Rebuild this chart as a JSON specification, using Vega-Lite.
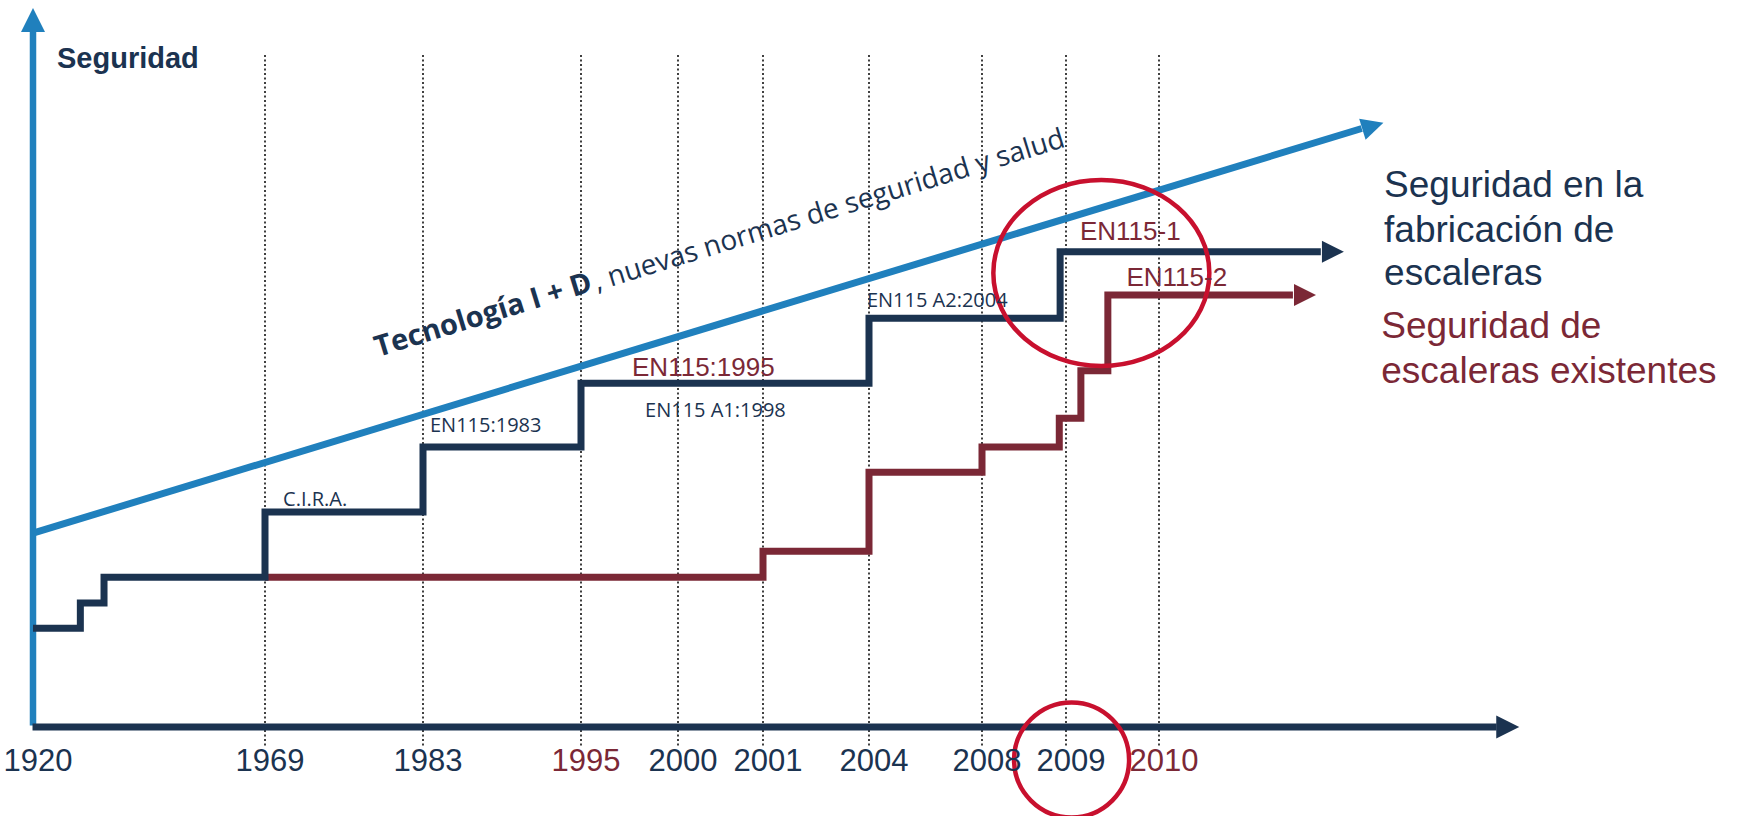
{
  "$schema": "https://vega.github.io/schema/vega-lite/v6.json",
  "width": 1738,
  "height": 816,
  "autosize": {"type": "none"},
  "padding": 0,
  "background": "white",
  "config": {"view": {"stroke": null}},
  "datasets": {
    "anios": [
      {"anio": 1920, "serie": "fabricación"},
      {"anio": 1969, "serie": "fabricación"},
      {"anio": 1983, "serie": "fabricación"},
      {"anio": 1995, "serie": "existentes"},
      {"anio": 2000, "serie": "fabricación"},
      {"anio": 2001, "serie": "fabricación"},
      {"anio": 2004, "serie": "fabricación"},
      {"anio": 2008, "serie": "fabricación"},
      {"anio": 2009, "serie": "fabricación"},
      {"anio": 2010, "serie": "existentes"}
    ],
    "fabricacion": [
      {"anio": 1920, "nivel": 14.1, "serie": "fabricación"},
      {"anio": 1930, "nivel": 17.7, "serie": "fabricación"},
      {"anio": 1935, "nivel": 21.4, "serie": "fabricación"},
      {"anio": 1969, "nivel": 30.7, "serie": "fabricación"},
      {"anio": 1983, "nivel": 40.0, "serie": "fabricación"},
      {"anio": 1995, "nivel": 49.1, "serie": "fabricación"},
      {"anio": 2004, "nivel": 58.4, "serie": "fabricación"},
      {"anio": 2008.93, "nivel": 67.9, "serie": "fabricación"},
      {"anio": 2011.74, "nivel": 67.9, "serie": "fabricación"}
    ],
    "existentes": [
      {"anio": 1969, "nivel": 21.4, "serie": "existentes"},
      {"anio": 2001, "nivel": 25.1, "serie": "existentes"},
      {"anio": 2004, "nivel": 36.4, "serie": "existentes"},
      {"anio": 2008, "nivel": 40.0, "serie": "existentes"},
      {"anio": 2008.92, "nivel": 44.1, "serie": "existentes"},
      {"anio": 2009.16, "nivel": 50.9, "serie": "existentes"},
      {"anio": 2009.45, "nivel": 61.7, "serie": "existentes"},
      {"anio": 2011.44, "nivel": 61.7, "serie": "existentes"}
    ],
    "tecnologia": [
      {"anio": 1920, "nivel": 27.7},
      {"anio": 2012.18, "nivel": 85.5}
    ],
    "normas": [
      {"anio": 1970.6, "nivel": 31.57, "texto": "C.I.R.A."},
      {"anio": 1983.53, "nivel": 42.14, "texto": "EN115:1983"},
      {"anio": 1998.3, "nivel": 44.29, "texto": "EN115 A1:1998"},
      {"anio": 2003.94, "nivel": 60.0, "texto": "EN115 A2:2004"}
    ],
    "normas_en": [
      {"anio": 1997.63, "nivel": 50.14, "texto": "EN115:1995"},
      {"anio": 2009.15, "nivel": 69.57, "texto": "EN115-1"},
      {"anio": 2009.65, "nivel": 63.0, "texto": "EN115-2"}
    ],
    "leyenda": [
      {"anio": 2012.42, "nivel": 75.71, "texto": "Seguridad en la", "serie": "fabricación"},
      {"anio": 2012.42, "nivel": 69.29, "texto": "fabricación de", "serie": "fabricación"},
      {"anio": 2012.42, "nivel": 63.14, "texto": "escaleras", "serie": "fabricación"},
      {"anio": 2012.39, "nivel": 55.57, "texto": "Seguridad de", "serie": "existentes"},
      {"anio": 2012.39, "nivel": 49.14, "texto": "escaleras existentes", "serie": "existentes"}
    ],
    "tendencia": [
      {"anio": 1979.01, "nivel": 52.86, "texto": "Tecnología I + D", "parte": "tecnología"},
      {"anio": 1995.82, "nivel": 62.3, "texto": ", nuevas normas de seguridad y salud", "parte": "normas"}
    ]
  },
  "layer": [
    {
      "data": {"name": "anios"},
      "transform": [{"filter": "datum.anio > 1920"}],
      "mark": {"type": "rule", "color": "#111111", "strokeWidth": 1.6, "strokeDash": [2, 2.5]},
      "encoding": {
        "x": {"field": "anio", "type": "quantitative", "axis": null, "scale": {"type": "linear", "domain": [1920, 1969, 1983, 1995, 2000, 2001, 2004, 2008, 2009, 2010], "range": [33, 265, 423, 581, 678, 763, 869, 982, 1066, 1159], "zero": false, "nice": false}},
        "y": {"datum": 96, "type": "quantitative", "axis": null, "scale": {"type": "linear", "domain": [0, 100], "range": [727, 27], "zero": false, "nice": false}},
        "y2": {"datum": -2.9}
      }
    },
    {
      "data": {"values": [{}]},
      "mark": {"type": "rule", "color": "#2080bd", "strokeWidth": 6.5},
      "encoding": {
        "x": {"datum": 1920, "type": "quantitative", "axis": null, "scale": {"type": "linear", "domain": [1920, 1969, 1983, 1995, 2000, 2001, 2004, 2008, 2009, 2010], "range": [33, 265, 423, 581, 678, 763, 869, 982, 1066, 1159], "zero": false, "nice": false}},
        "y": {"datum": 0.2, "type": "quantitative", "axis": null, "scale": {"type": "linear", "domain": [0, 100], "range": [727, 27], "zero": false, "nice": false}},
        "y2": {"datum": 99.3}
      }
    },
    {
      "data": {"values": [{}]},
      "mark": {"type": "point", "shape": "M0,-1L1,1L-1,1Z", "filled": true, "opacity": 1, "color": "#2080bd", "size": 576, "strokeWidth": 0},
      "encoding": {
        "x": {"datum": 1920, "type": "quantitative", "axis": null, "scale": {"type": "linear", "domain": [1920, 1969, 1983, 1995, 2000, 2001, 2004, 2008, 2009, 2010], "range": [33, 265, 423, 581, 678, 763, 869, 982, 1066, 1159], "zero": false, "nice": false}},
        "y": {"datum": 101.0, "type": "quantitative", "axis": null, "scale": {"type": "linear", "domain": [0, 100], "range": [727, 27], "zero": false, "nice": false}}
      }
    },
    {
      "data": {"values": [{}]},
      "mark": {"type": "rule", "color": "#1b3350", "strokeWidth": 7},
      "encoding": {
        "x": {"datum": 1919.9, "type": "quantitative", "axis": null, "scale": {"type": "linear", "domain": [1920, 1969, 1983, 1995, 2000, 2001, 2004, 2008, 2009, 2010], "range": [33, 265, 423, 581, 678, 763, 869, 982, 1066, 1159], "zero": false, "nice": false}},
        "x2": {"datum": 2013.63},
        "y": {"datum": 0, "type": "quantitative", "axis": null, "scale": {"type": "linear", "domain": [0, 100], "range": [727, 27], "zero": false, "nice": false}}
      }
    },
    {
      "data": {"values": [{}]},
      "mark": {"type": "point", "shape": "M1,0L-1,-1L-1,1Z", "filled": true, "opacity": 1, "color": "#1b3350", "size": 529, "strokeWidth": 0},
      "encoding": {
        "x": {"datum": 2013.75, "type": "quantitative", "axis": null, "scale": {"type": "linear", "domain": [1920, 1969, 1983, 1995, 2000, 2001, 2004, 2008, 2009, 2010], "range": [33, 265, 423, 581, 678, 763, 869, 982, 1066, 1159], "zero": false, "nice": false}},
        "y": {"datum": 0, "type": "quantitative", "axis": null, "scale": {"type": "linear", "domain": [0, 100], "range": [727, 27], "zero": false, "nice": false}}
      }
    },
    {
      "data": {"name": "tecnologia"},
      "mark": {"type": "line", "color": "#2080bd", "strokeWidth": 7, "strokeCap": "butt"},
      "encoding": {
        "x": {"field": "anio", "type": "quantitative", "axis": null, "scale": {"type": "linear", "domain": [1920, 1969, 1983, 1995, 2000, 2001, 2004, 2008, 2009, 2010], "range": [33, 265, 423, 581, 678, 763, 869, 982, 1066, 1159], "zero": false, "nice": false}},
        "y": {"field": "nivel", "type": "quantitative", "axis": null, "scale": {"type": "linear", "domain": [0, 100], "range": [727, 27], "zero": false, "nice": false}}
      }
    },
    {
      "data": {"values": [{}]},
      "mark": {"type": "point", "shape": "M1,0L-1,-1L-1,1Z", "filled": true, "opacity": 1, "color": "#2080bd", "size": 484, "strokeWidth": 0, "angle": 343.0},
      "encoding": {
        "x": {"datum": 2012.30, "type": "quantitative", "axis": null, "scale": {"type": "linear", "domain": [1920, 1969, 1983, 1995, 2000, 2001, 2004, 2008, 2009, 2010], "range": [33, 265, 423, 581, 678, 763, 869, 982, 1066, 1159], "zero": false, "nice": false}},
        "y": {"datum": 85.86, "type": "quantitative", "axis": null, "scale": {"type": "linear", "domain": [0, 100], "range": [727, 27], "zero": false, "nice": false}}
      }
    },
    {
      "data": {"name": "existentes"},
      "mark": {"type": "line", "interpolate": "step-after", "strokeWidth": 7, "strokeCap": "butt", "strokeJoin": "miter"},
      "encoding": {
        "x": {"field": "anio", "type": "quantitative", "axis": null, "scale": {"type": "linear", "domain": [1920, 1969, 1983, 1995, 2000, 2001, 2004, 2008, 2009, 2010], "range": [33, 265, 423, 581, 678, 763, 869, 982, 1066, 1159], "zero": false, "nice": false}},
        "y": {"field": "nivel", "type": "quantitative", "axis": null, "scale": {"type": "linear", "domain": [0, 100], "range": [727, 27], "zero": false, "nice": false}},
        "color": {"field": "serie", "type": "nominal", "legend": null, "scale": {"domain": ["fabricación", "existentes"], "range": ["#1b3350", "#7b2836"]}}
      }
    },
    {
      "data": {"values": [{}]},
      "mark": {"type": "point", "shape": "M1,0L-1,-1L-1,1Z", "filled": true, "opacity": 1, "color": "#7b2836", "size": 484, "strokeWidth": 0},
      "encoding": {
        "x": {"datum": 2011.57, "type": "quantitative", "axis": null, "scale": {"type": "linear", "domain": [1920, 1969, 1983, 1995, 2000, 2001, 2004, 2008, 2009, 2010], "range": [33, 265, 423, 581, 678, 763, 869, 982, 1066, 1159], "zero": false, "nice": false}},
        "y": {"datum": 61.7, "type": "quantitative", "axis": null, "scale": {"type": "linear", "domain": [0, 100], "range": [727, 27], "zero": false, "nice": false}}
      }
    },
    {
      "data": {"name": "fabricacion"},
      "mark": {"type": "line", "interpolate": "step-after", "strokeWidth": 7, "strokeCap": "butt", "strokeJoin": "miter"},
      "encoding": {
        "x": {"field": "anio", "type": "quantitative", "axis": null, "scale": {"type": "linear", "domain": [1920, 1969, 1983, 1995, 2000, 2001, 2004, 2008, 2009, 2010], "range": [33, 265, 423, 581, 678, 763, 869, 982, 1066, 1159], "zero": false, "nice": false}},
        "y": {"field": "nivel", "type": "quantitative", "axis": null, "scale": {"type": "linear", "domain": [0, 100], "range": [727, 27], "zero": false, "nice": false}},
        "color": {"field": "serie", "type": "nominal", "legend": null, "scale": {"domain": ["fabricación", "existentes"], "range": ["#1b3350", "#7b2836"]}}
      }
    },
    {
      "data": {"values": [{}]},
      "mark": {"type": "point", "shape": "M1,0L-1,-1L-1,1Z", "filled": true, "opacity": 1, "color": "#1b3350", "size": 484, "strokeWidth": 0},
      "encoding": {
        "x": {"datum": 2011.87, "type": "quantitative", "axis": null, "scale": {"type": "linear", "domain": [1920, 1969, 1983, 1995, 2000, 2001, 2004, 2008, 2009, 2010], "range": [33, 265, 423, 581, 678, 763, 869, 982, 1066, 1159], "zero": false, "nice": false}},
        "y": {"datum": 67.9, "type": "quantitative", "axis": null, "scale": {"type": "linear", "domain": [0, 100], "range": [727, 27], "zero": false, "nice": false}}
      }
    },
    {
      "data": {"values": [{}]},
      "mark": {"type": "point", "shape": "M-1,0C-1,-0.4755,-0.5523,-0.861,0,-0.861C0.5523,-0.861,1,-0.4755,1,0C1,0.4755,0.5523,0.861,0,0.861C-0.5523,0.861,-1,0.4755,-1,0Z", "filled": false, "opacity": 1, "color": "#c8102e", "size": 46656, "strokeWidth": 4.5},
      "encoding": {
        "x": {"datum": 2009.38, "type": "quantitative", "axis": null, "scale": {"type": "linear", "domain": [1920, 1969, 1983, 1995, 2000, 2001, 2004, 2008, 2009, 2010], "range": [33, 265, 423, 581, 678, 763, 869, 982, 1066, 1159], "zero": false, "nice": false}},
        "y": {"datum": 64.86, "type": "quantitative", "axis": null, "scale": {"type": "linear", "domain": [0, 100], "range": [727, 27], "zero": false, "nice": false}}
      }
    },
    {
      "data": {"values": [{}]},
      "mark": {"type": "point", "shape": "M-1,0C-1,-0.5523,-0.5523,-1,0,-1C0.5523,-1,1,-0.5523,1,0C1,0.5523,0.5523,1,0,1C-0.5523,1,-1,0.5523,-1,0Z", "filled": false, "opacity": 1, "color": "#c8102e", "size": 13225, "strokeWidth": 4.5},
      "encoding": {
        "x": {"datum": 2009.06, "type": "quantitative", "axis": null, "scale": {"type": "linear", "domain": [1920, 1969, 1983, 1995, 2000, 2001, 2004, 2008, 2009, 2010], "range": [33, 265, 423, 581, 678, 763, 869, 982, 1066, 1159], "zero": false, "nice": false}},
        "y": {"datum": -4.7, "type": "quantitative", "axis": null, "scale": {"type": "linear", "domain": [0, 100], "range": [727, 27], "zero": false, "nice": false}}
      }
    },
    {
      "data": {"name": "anios"},
      "mark": {"type": "text", "font": "Liberation Sans", "fontSize": 31, "align": "center", "baseline": "alphabetic", "dx": 5},
      "encoding": {
        "x": {"field": "anio", "type": "quantitative", "axis": null, "scale": {"type": "linear", "domain": [1920, 1969, 1983, 1995, 2000, 2001, 2004, 2008, 2009, 2010], "range": [33, 265, 423, 581, 678, 763, 869, 982, 1066, 1159], "zero": false, "nice": false}},
        "y": {"datum": -6.3, "type": "quantitative", "axis": null, "scale": {"type": "linear", "domain": [0, 100], "range": [727, 27], "zero": false, "nice": false}},
        "text": {"field": "anio", "type": "nominal"},
        "color": {"field": "serie", "type": "nominal", "legend": null, "scale": {"domain": ["fabricación", "existentes"], "range": ["#1b3350", "#7b2836"]}}
      }
    },
    {
      "data": {"name": "normas"},
      "mark": {"type": "text", "font": "Open Sans", "fontSize": 20, "align": "left", "baseline": "alphabetic", "color": "#1b3350"},
      "encoding": {
        "x": {"field": "anio", "type": "quantitative", "axis": null, "scale": {"type": "linear", "domain": [1920, 1969, 1983, 1995, 2000, 2001, 2004, 2008, 2009, 2010], "range": [33, 265, 423, 581, 678, 763, 869, 982, 1066, 1159], "zero": false, "nice": false}},
        "y": {"field": "nivel", "type": "quantitative", "axis": null, "scale": {"type": "linear", "domain": [0, 100], "range": [727, 27], "zero": false, "nice": false}},
        "text": {"field": "texto", "type": "nominal"}
      }
    },
    {
      "data": {"name": "normas_en"},
      "mark": {"type": "text", "font": "Liberation Sans", "fontSize": 26, "align": "left", "baseline": "alphabetic", "color": "#7b2836"},
      "encoding": {
        "x": {"field": "anio", "type": "quantitative", "axis": null, "scale": {"type": "linear", "domain": [1920, 1969, 1983, 1995, 2000, 2001, 2004, 2008, 2009, 2010], "range": [33, 265, 423, 581, 678, 763, 869, 982, 1066, 1159], "zero": false, "nice": false}},
        "y": {"field": "nivel", "type": "quantitative", "axis": null, "scale": {"type": "linear", "domain": [0, 100], "range": [727, 27], "zero": false, "nice": false}},
        "text": {"field": "texto", "type": "nominal"}
      }
    },
    {
      "data": {"name": "leyenda"},
      "mark": {"type": "text", "font": "Liberation Sans", "fontSize": 37, "align": "left", "baseline": "alphabetic"},
      "encoding": {
        "x": {"field": "anio", "type": "quantitative", "axis": null, "scale": {"type": "linear", "domain": [1920, 1969, 1983, 1995, 2000, 2001, 2004, 2008, 2009, 2010], "range": [33, 265, 423, 581, 678, 763, 869, 982, 1066, 1159], "zero": false, "nice": false}},
        "y": {"field": "nivel", "type": "quantitative", "axis": null, "scale": {"type": "linear", "domain": [0, 100], "range": [727, 27], "zero": false, "nice": false}},
        "text": {"field": "texto", "type": "nominal"},
        "color": {"field": "serie", "type": "nominal", "legend": null, "scale": {"domain": ["fabricación", "existentes"], "range": ["#1b3350", "#7b2836"]}}
      }
    },
    {
      "data": {"values": [{"texto": "Seguridad"}]},
      "mark": {"type": "text", "font": "Liberation Sans", "fontSize": 29, "fontWeight": "bold", "align": "left", "baseline": "alphabetic", "color": "#1b3350"},
      "encoding": {
        "x": {"datum": 1925.07, "type": "quantitative", "axis": null, "scale": {"type": "linear", "domain": [1920, 1969, 1983, 1995, 2000, 2001, 2004, 2008, 2009, 2010], "range": [33, 265, 423, 581, 678, 763, 869, 982, 1066, 1159], "zero": false, "nice": false}},
        "y": {"datum": 94.14, "type": "quantitative", "axis": null, "scale": {"type": "linear", "domain": [0, 100], "range": [727, 27], "zero": false, "nice": false}},
        "text": {"field": "texto", "type": "nominal"}
      }
    },
    {
      "data": {"name": "tendencia"},
      "transform": [{"filter": "datum.parte == 'tecnología'"}],
      "mark": {"type": "text", "font": "Open Sans", "fontSize": 29, "fontWeight": "bold", "align": "left", "baseline": "alphabetic", "angle": 342.9, "color": "#1b3350"},
      "encoding": {
        "x": {"field": "anio", "type": "quantitative", "axis": null, "scale": {"type": "linear", "domain": [1920, 1969, 1983, 1995, 2000, 2001, 2004, 2008, 2009, 2010], "range": [33, 265, 423, 581, 678, 763, 869, 982, 1066, 1159], "zero": false, "nice": false}},
        "y": {"field": "nivel", "type": "quantitative", "axis": null, "scale": {"type": "linear", "domain": [0, 100], "range": [727, 27], "zero": false, "nice": false}},
        "text": {"field": "texto", "type": "nominal"}
      }
    },
    {
      "data": {"name": "tendencia"},
      "transform": [{"filter": "datum.parte == 'normas'"}],
      "mark": {"type": "text", "font": "Open Sans", "fontSize": 28, "align": "left", "baseline": "alphabetic", "angle": 342.9, "color": "#1b3350"},
      "encoding": {
        "x": {"field": "anio", "type": "quantitative", "axis": null, "scale": {"type": "linear", "domain": [1920, 1969, 1983, 1995, 2000, 2001, 2004, 2008, 2009, 2010], "range": [33, 265, 423, 581, 678, 763, 869, 982, 1066, 1159], "zero": false, "nice": false}},
        "y": {"field": "nivel", "type": "quantitative", "axis": null, "scale": {"type": "linear", "domain": [0, 100], "range": [727, 27], "zero": false, "nice": false}},
        "text": {"field": "texto", "type": "nominal"}
      }
    }
  ]
}
